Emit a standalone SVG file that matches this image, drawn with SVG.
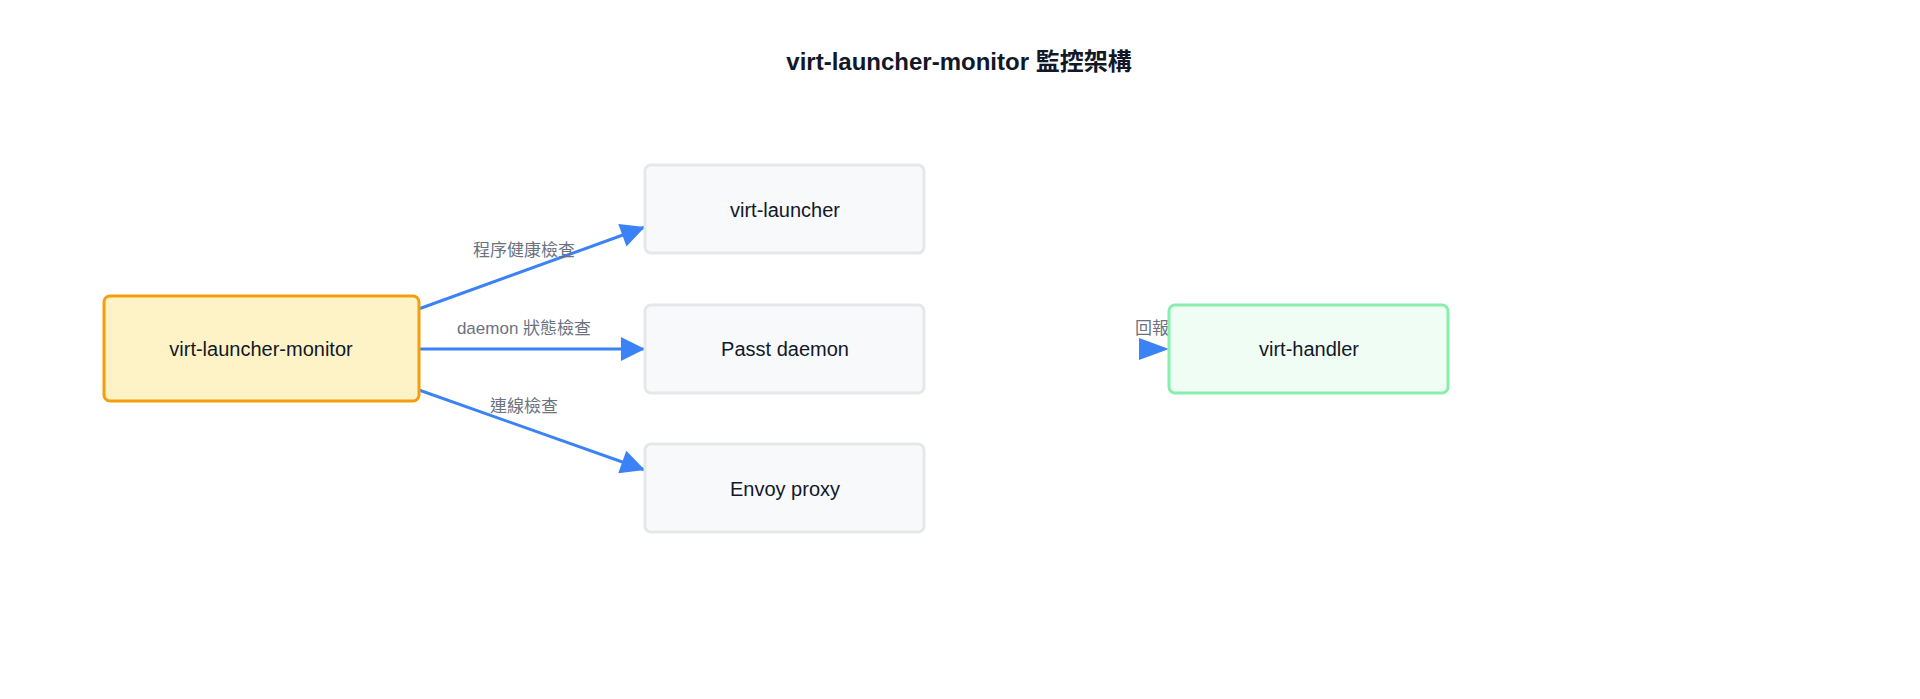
<svg xmlns="http://www.w3.org/2000/svg" width="1920" height="699" viewBox="0 0 1920 699">
<style>
.t{font-family:"Liberation Sans","Noto Sans CJK TC",sans-serif;fill:#111827}
.n{font-size:20px;text-anchor:middle;dominant-baseline:central}
.l{font-family:"Liberation Sans","Noto Sans CJK TC",sans-serif;font-size:17px;fill:#6b7280;text-anchor:middle;dominant-baseline:central}
.box{fill:#f8f9fb;stroke:#e5e7eb;stroke-width:3}
.e{stroke:#3b82f6;stroke-width:3;fill:none}
</style>
<defs><marker id="a" viewBox="0 0 10 10" refX="10" refY="5" markerWidth="10" markerHeight="8" markerUnits="userSpaceOnUse" orient="auto" style="overflow:visible"><path d="M0,0L10,5L0,10z" fill="#3b82f6" transform="scale(3)translate(-6.7,-3.3)"/></marker></defs>
<rect width="1920" height="699" fill="#fff"/>
<text class="t" x="959" y="61" font-size="24" font-weight="bold" text-anchor="middle" dominant-baseline="central">virt-launcher-monitor 監控架構</text>
<g id="connectors">
<line class="e" x1="402" y1="315" x2="645" y2="227" marker-end="url(#a)"/>
<line class="e" x1="402" y1="349" x2="645" y2="349" marker-end="url(#a)"/>
<line class="e" x1="402" y1="384" x2="645" y2="470" marker-end="url(#a)"/>
<path d="M1139,338L1169,349L1139,360z" fill="#3b82f6"/>
<text class="l" x="524" y="250">程序健康檢查</text>
<text class="l" x="524" y="328">daemon 狀態檢查</text>
<text class="l" x="524" y="406">連線檢查</text>
<text class="l" x="1169" y="328">回報狀態</text>
</g>
<g id="monitor"><rect x="104" y="296" width="315" height="105" rx="6" fill="#fef3c7" stroke="#f59e0b" stroke-width="3"/><text class="t n" x="261" y="349">virt-launcher-monitor</text></g>
<g id="launcher"><rect class="box" x="645" y="165" width="279" height="88" rx="6"/><text class="t n" x="785" y="210">virt-launcher</text></g>
<g id="passt"><rect class="box" x="645" y="305" width="279" height="88" rx="6"/><text class="t n" x="785" y="349">Passt daemon</text></g>
<g id="envoy"><rect class="box" x="645" y="444" width="279" height="88" rx="6"/><text class="t n" x="785" y="489">Envoy proxy</text></g>
<g id="handler"><rect x="1169" y="305" width="279" height="88" rx="6" fill="#f0fdf4" stroke="#86efac" stroke-width="3"/><text class="t n" x="1309" y="349">virt-handler</text></g>
</svg>
